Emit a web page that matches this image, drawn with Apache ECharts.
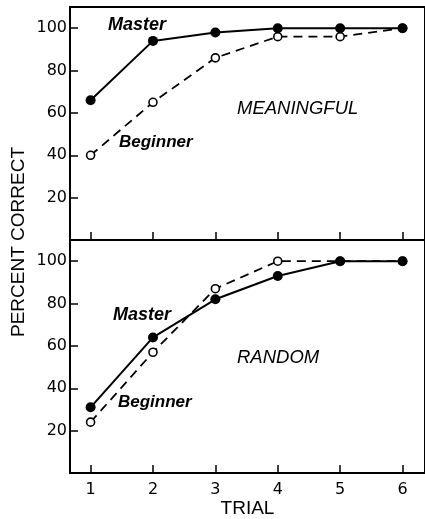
<!DOCTYPE html>
<html><head><meta charset="utf-8">
<script src="https://cdn.jsdelivr.net/npm/echarts@6/dist/echarts.min.js"></script>
<style>html,body{margin:0;padding:0;background:#fff}#c{width:425px;height:519px}</style>
</head><body><div id="c"></div>
<script>
const trials = [1, 2, 3, 4, 5, 6];
const yTicks = [20, 40, 60, 80, 100];
const meaningfulMaster = [66, 94, 98, 100, 100, 100];
const meaningfulBeginner = [40, 65, 86, 96, 96, 100];
const randomMaster = [31, 64, 82, 93, 100, 100];
const randomBeginner = [24, 57, 87, 100, 100, 100];
const seriesNames = ['Master', 'Beginner'];
const panelNames = ['MEANINGFUL', 'RANDOM'];

const pair = (ys) => trials.map((t, i) => [t, ys[i]]);
const chart = echarts.init(document.getElementById('c'), null, {renderer: 'canvas'});
const numFont = 'DejaVu Sans';
const txtFont = 'Liberation Sans';

function xAx(gi, showLabels) {
  return {
    type: 'value', gridIndex: gi, min: 0.67, max: 6.36,
    axisLine: {show: true, lineStyle: {color: '#000', width: 2}},
    axisTick: {show: true, inside: true, length: 8, customValues: trials, lineStyle: {color: '#000', width: 1.5}},
    axisLabel: {show: showLabels, customValues: trials, color: '#000', fontFamily: numFont, fontSize: 16, margin: 9},
    splitLine: {show: false},
    name: showLabels ? 'TRIAL' : '', nameLocation: 'middle', nameGap: 25,
    nameTextStyle: {color: '#000', fontFamily: txtFont, fontSize: 19}
  };
}
function yAx(gi) {
  return {
    type: 'value', gridIndex: gi, min: 0, max: 110,
    axisLine: {show: true, lineStyle: {color: '#000', width: 2}},
    axisTick: {show: true, inside: true, length: 8, customValues: yTicks, lineStyle: {color: '#000', width: 1.5}},
    axisLabel: {show: true, customValues: yTicks, color: '#000', fontFamily: numFont, fontSize: 16, margin: 3},
    splitLine: {show: false}
  };
}
function masterSeries(gi, data) {
  return {
    name: seriesNames[0], type: 'line', xAxisIndex: gi, yAxisIndex: gi, data: pair(data),
    symbol: 'circle', symbolSize: 10,
    lineStyle: {color: '#000', width: 2},
    itemStyle: {color: '#000', borderColor: '#000', borderWidth: 0},
    z: 4, animation: false
  };
}
function beginnerSeries(gi, data) {
  return {
    name: seriesNames[1], type: 'line', xAxisIndex: gi, yAxisIndex: gi, data: pair(data),
    symbol: 'circle', symbolSize: 8,
    lineStyle: {color: '#000', width: 1.8, type: [9, 6]},
    itemStyle: {color: '#fff', borderColor: '#000', borderWidth: 1.6},
    z: 3, animation: false
  };
}
function label(text, x, y, size, bold) {
  return {
    type: 'text', x: x, y: y, z: 10,
    style: {text: text, fill: '#000', font: 'italic ' + (bold ? 'bold ' : '') + size + 'px "' + txtFont + '"',
            textAlign: 'left', textVerticalAlign: 'middle'}
  };
}

chart.setOption({
  animation: false,
  backgroundColor: '#fff',
  grid: [
    {left: 70, width: 362, top: 7, height: 233, show: true, borderColor: '#000', borderWidth: 2},
    {left: 70, width: 362, top: 240, height: 233, show: true, borderColor: '#000', borderWidth: 2}
  ],
  xAxis: [xAx(0, false), xAx(1, true)],
  yAxis: [yAx(0), yAx(1)],
  series: [
    beginnerSeries(0, meaningfulBeginner), masterSeries(0, meaningfulMaster),
    beginnerSeries(1, randomBeginner), masterSeries(1, randomMaster)
  ],
  graphic: [
    {type: 'text', x: 19, y: 242, rotation: Math.PI / 2, z: 10,
     style: {text: 'PERCENT CORRECT', fill: '#000', font: '19px "' + txtFont + '"', textAlign: 'center', textVerticalAlign: 'middle'}},
    label(seriesNames[0], 108, 25, 18, true),
    label(seriesNames[1], 119, 142, 17, true),
    label(panelNames[0], 237, 109, 18.5, false),
    label(seriesNames[0], 113, 315, 18, true),
    label(panelNames[1], 237, 358, 18.5, false),
    label(seriesNames[1], 118, 402, 17, true)
  ]
});
</script></body></html>
